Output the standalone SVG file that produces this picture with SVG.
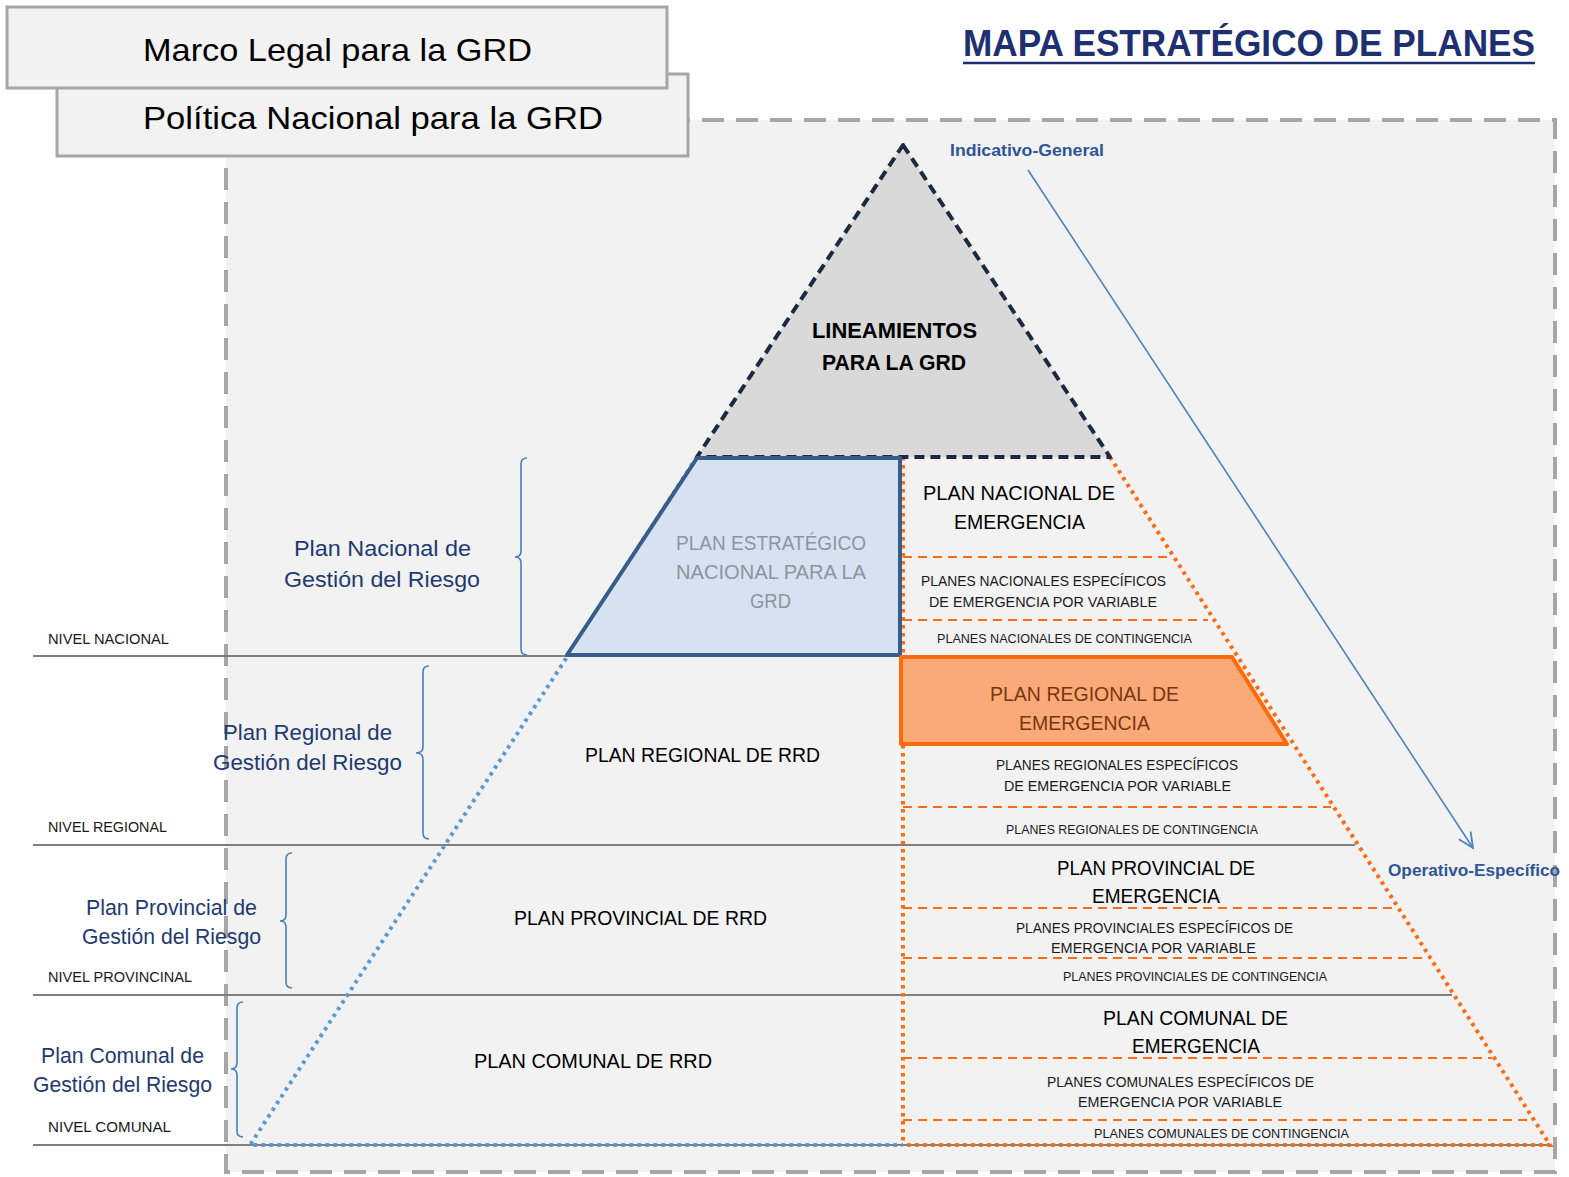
<svg xmlns="http://www.w3.org/2000/svg" width="1569" height="1177" viewBox="0 0 1569 1177">
<style>
text{font-family:"Liberation Sans",Arial,sans-serif;}
.hdr{font-size:32px;fill:#000;}
.t21{font-size:21px;fill:#000;}
.t15{font-size:15px;fill:#1a1a1a;}
.t13{font-size:13px;fill:#1a1a1a;}
.lbl{font-size:22px;fill:#1f3a70;}
.niv{font-size:14.5px;fill:#1a1a1a;}
.ind{font-size:16px;font-weight:bold;fill:#2f5597;}
.sep{stroke:#7f7f7f;stroke-width:2;fill:none;}
.odash{stroke:#fc6c12;stroke-width:2.2;stroke-dasharray:9 6;fill:none;}
.odot{stroke:#fc6c12;stroke-width:4;stroke-dasharray:3.5 4.5;fill:none;}
.bdot{stroke:#5b9bd5;stroke-width:4;stroke-dasharray:3.5 4.5;fill:none;}
.brk{stroke:#4a7ebb;stroke-width:1.6;fill:none;}
</style>
<defs>
<marker id="arr" viewBox="0 0 20 20" refX="17" refY="10" markerWidth="20" markerHeight="20" markerUnits="userSpaceOnUse" orient="auto">
<path d="M2,3 L17,10 L2,17" fill="none" stroke="#4f81bd" stroke-width="1.8"/>
</marker>
</defs>
<rect width="1569" height="1177" fill="#fff"/>
<!-- frame -->
<rect id="frame" x="226" y="120" width="1329" height="1052" fill="#f2f2f2" stroke="#a6a6a6" stroke-width="4" stroke-dasharray="22 12"/>
<!-- header boxes -->
<g id="politica"><rect x="57" y="74" width="631" height="82" fill="#f2f2f2" stroke="#a6a6a6" stroke-width="3"/><text class="hdr" x="143" y="129" textLength="460" lengthAdjust="spacingAndGlyphs">Política Nacional para la GRD</text></g>
<g id="marco"><rect x="7" y="7" width="660" height="81" fill="#f2f2f2" stroke="#a6a6a6" stroke-width="3"/><text class="hdr" x="143" y="61" textLength="389" lengthAdjust="spacingAndGlyphs">Marco Legal para la GRD</text></g>
<g id="title"><text x="963" y="56" font-size="37" font-weight="bold" fill="#1f3071" textLength="572" lengthAdjust="spacingAndGlyphs">MAPA ESTRATÉGICO DE PLANES</text><line x1="963" y1="63" x2="1535" y2="63" stroke="#1f3071" stroke-width="2.5"/></g>
<!-- separators -->
<g id="separators">
<line class="sep" x1="33" y1="656" x2="1233" y2="656"/>
<line class="sep" x1="33" y1="845" x2="1355" y2="845"/>
<line class="sep" x1="33" y1="995" x2="1452" y2="995"/>
<line class="sep" x1="33" y1="1145" x2="1550" y2="1145"/>
</g>
<!-- dotted outlines -->
<g id="connectors">
<path class="bdot" d="M697,457 L250,1145 L903,1145"/>
<path class="odot" d="M1110,457 L1550,1145 L903,1145 M903,457 L903,1145"/>
<line class="odash" x1="903" y1="557" x2="1168" y2="557"/>
<line class="odash" x1="903" y1="620" x2="1208" y2="620"/>
<line class="odash" x1="903" y1="807" x2="1331" y2="807"/>
<line class="odash" x1="903" y1="908" x2="1396" y2="908"/>
<line class="odash" x1="903" y1="958" x2="1428" y2="958"/>
<line class="odash" x1="903" y1="1058" x2="1492" y2="1058"/>
<line class="odash" x1="903" y1="1120" x2="1532" y2="1120"/>
<line x1="1028" y1="170" x2="1473" y2="848" stroke="#4f81bd" stroke-width="1.6" marker-end="url(#arr)"/>
</g>
<!-- apex -->
<g id="lineamientos">
<path d="M903,145 L1110,457 L697,457 Z" fill="#d9d9d9" stroke="#1b2a3f" stroke-width="4" stroke-dasharray="10 6" stroke-linejoin="round"/>
<text x="812" y="338" font-size="22" font-weight="bold" fill="#000" textLength="165" lengthAdjust="spacingAndGlyphs">LINEAMIENTOS</text>
<text x="822" y="370" font-size="22" font-weight="bold" fill="#000" textLength="144" lengthAdjust="spacingAndGlyphs">PARA LA GRD</text>
</g>
<!-- blue trapezoid -->
<g id="plan-estrategico">
<path d="M697,458 L900,458 L900,655 L567,655 Z" fill="#d6e1f1" stroke="#385d8a" stroke-width="4" stroke-linejoin="round"/>
<text x="676" y="550" font-size="21" fill="#8c959f" textLength="190" lengthAdjust="spacingAndGlyphs">PLAN ESTRATÉGICO</text>
<text x="676" y="579" font-size="21" fill="#8c959f" textLength="190" lengthAdjust="spacingAndGlyphs">NACIONAL PARA LA</text>
<text x="750" y="608" font-size="21" fill="#8c959f" textLength="41" lengthAdjust="spacingAndGlyphs">GRD</text>
</g>
<!-- orange regional box -->
<g id="plan-regional-emergencia">
<path d="M901,657 L1232,657 L1287,744 L901,744 Z" fill="#f9aa78" stroke="#fd6a0a" stroke-width="4" stroke-linejoin="round"/>
<text x="990" y="701" font-size="21" fill="#7a3610" textLength="189" lengthAdjust="spacingAndGlyphs">PLAN REGIONAL DE</text>
<text x="1019" y="730" font-size="21" fill="#7a3610" textLength="131" lengthAdjust="spacingAndGlyphs">EMERGENCIA</text>
</g>
<!-- right column texts -->
<g id="nacional-emergencia"><text class="t21" x="923" y="500" textLength="192" lengthAdjust="spacingAndGlyphs">PLAN NACIONAL DE</text><text class="t21" x="954" y="529" textLength="131" lengthAdjust="spacingAndGlyphs">EMERGENCIA</text></g>
<g id="nacional-especificos"><text class="t15" x="921" y="586" textLength="245" lengthAdjust="spacingAndGlyphs">PLANES NACIONALES ESPECÍFICOS</text><text class="t15" x="929" y="607" textLength="228" lengthAdjust="spacingAndGlyphs">DE EMERGENCIA POR VARIABLE</text></g>
<g id="nacional-contingencia"><text class="t13" x="937" y="643" textLength="255" lengthAdjust="spacingAndGlyphs">PLANES NACIONALES DE CONTINGENCIA</text></g>
<g id="regional-especificos"><text class="t15" x="996" y="770" textLength="242" lengthAdjust="spacingAndGlyphs">PLANES REGIONALES ESPECÍFICOS</text><text class="t15" x="1004" y="791" textLength="227" lengthAdjust="spacingAndGlyphs">DE EMERGENCIA POR VARIABLE</text></g>
<g id="regional-contingencia"><text class="t13" x="1006" y="834" textLength="252" lengthAdjust="spacingAndGlyphs">PLANES REGIONALES DE CONTINGENCIA</text></g>
<g id="provincial-emergencia"><text class="t21" x="1057" y="875" textLength="198" lengthAdjust="spacingAndGlyphs">PLAN PROVINCIAL DE</text><text class="t21" x="1092" y="903" textLength="128" lengthAdjust="spacingAndGlyphs">EMERGENCIA</text></g>
<g id="provincial-especificos"><text class="t15" x="1016" y="933" textLength="277" lengthAdjust="spacingAndGlyphs">PLANES PROVINCIALES ESPECÍFICOS DE</text><text class="t15" x="1051" y="953" textLength="205" lengthAdjust="spacingAndGlyphs">EMERGENCIA POR VARIABLE</text></g>
<g id="provincial-contingencia"><text class="t13" x="1063" y="981" textLength="264" lengthAdjust="spacingAndGlyphs">PLANES PROVINCIALES DE CONTINGENCIA</text></g>
<g id="comunal-emergencia"><text class="t21" x="1103" y="1025" textLength="185" lengthAdjust="spacingAndGlyphs">PLAN COMUNAL DE</text><text class="t21" x="1132" y="1053" textLength="128" lengthAdjust="spacingAndGlyphs">EMERGENCIA</text></g>
<g id="comunal-especificos"><text class="t15" x="1047" y="1087" textLength="267" lengthAdjust="spacingAndGlyphs">PLANES COMUNALES ESPECÍFICOS DE</text><text class="t15" x="1078" y="1107" textLength="204" lengthAdjust="spacingAndGlyphs">EMERGENCIA POR VARIABLE</text></g>
<g id="comunal-contingencia"><text class="t13" x="1094" y="1138" textLength="255" lengthAdjust="spacingAndGlyphs">PLANES COMUNALES DE CONTINGENCIA</text></g>
<!-- RRD texts -->
<g id="regional-rrd"><text class="t21" x="585" y="762" textLength="235" lengthAdjust="spacingAndGlyphs">PLAN REGIONAL DE RRD</text></g>
<g id="provincial-rrd"><text class="t21" x="514" y="925" textLength="253" lengthAdjust="spacingAndGlyphs">PLAN PROVINCIAL DE RRD</text></g>
<g id="comunal-rrd"><text class="t21" x="474" y="1068" textLength="238" lengthAdjust="spacingAndGlyphs">PLAN COMUNAL DE RRD</text></g>
<!-- left labels -->
<g id="lbl-nacional"><text class="lbl" x="294" y="556" textLength="177" lengthAdjust="spacingAndGlyphs">Plan Nacional de</text><text class="lbl" x="284" y="587" textLength="196" lengthAdjust="spacingAndGlyphs">Gestión del Riesgo</text>
<path class="brk" d="M527,458 Q521,458 521,464 L521,551 Q521,557 515,557 Q521,557 521,563 L521,649 Q521,655 527,655"/></g>
<g id="lbl-regional"><text class="lbl" x="223" y="740" textLength="169" lengthAdjust="spacingAndGlyphs">Plan Regional de</text><text class="lbl" x="213" y="770" textLength="189" lengthAdjust="spacingAndGlyphs">Gestión del Riesgo</text>
<path class="brk" d="M429,666 Q423,666 423,672 L423,747 Q423,753 416,753 Q423,753 423,759 L423,833 Q423,839 429,839"/></g>
<g id="lbl-provincial"><text class="lbl" x="86" y="915" textLength="171" lengthAdjust="spacingAndGlyphs">Plan Provincial de</text><text class="lbl" x="82" y="944" textLength="179" lengthAdjust="spacingAndGlyphs">Gestión del Riesgo</text>
<path class="brk" d="M292,853 Q286,853 286,859 L286,915 Q286,921 280,921 Q286,921 286,927 L286,982 Q286,988 292,988"/></g>
<g id="lbl-comunal"><text class="lbl" x="41" y="1063" textLength="163" lengthAdjust="spacingAndGlyphs">Plan Comunal de</text><text class="lbl" x="33" y="1092" textLength="179" lengthAdjust="spacingAndGlyphs">Gestión del Riesgo</text>
<path class="brk" d="M243,1002 Q237,1002 237,1008 L237,1063 Q237,1069 231,1069 Q237,1069 237,1075 L237,1131 Q237,1137 243,1137"/></g>
<!-- nivel labels -->
<g id="niveles">
<text class="niv" x="48" y="644" textLength="121" lengthAdjust="spacingAndGlyphs">NIVEL NACIONAL</text>
<text class="niv" x="48" y="832" textLength="119" lengthAdjust="spacingAndGlyphs">NIVEL REGIONAL</text>
<text class="niv" x="48" y="982" textLength="144" lengthAdjust="spacingAndGlyphs">NIVEL PROVINCINAL</text>
<text class="niv" x="48" y="1132" textLength="123" lengthAdjust="spacingAndGlyphs">NIVEL COMUNAL</text>
</g>
<g id="indicativo"><text class="ind" x="950" y="156" textLength="154" lengthAdjust="spacingAndGlyphs">Indicativo-General</text></g>
<g id="operativo"><text class="ind" x="1388" y="876" textLength="172" lengthAdjust="spacingAndGlyphs">Operativo-Específico</text></g>
</svg>
